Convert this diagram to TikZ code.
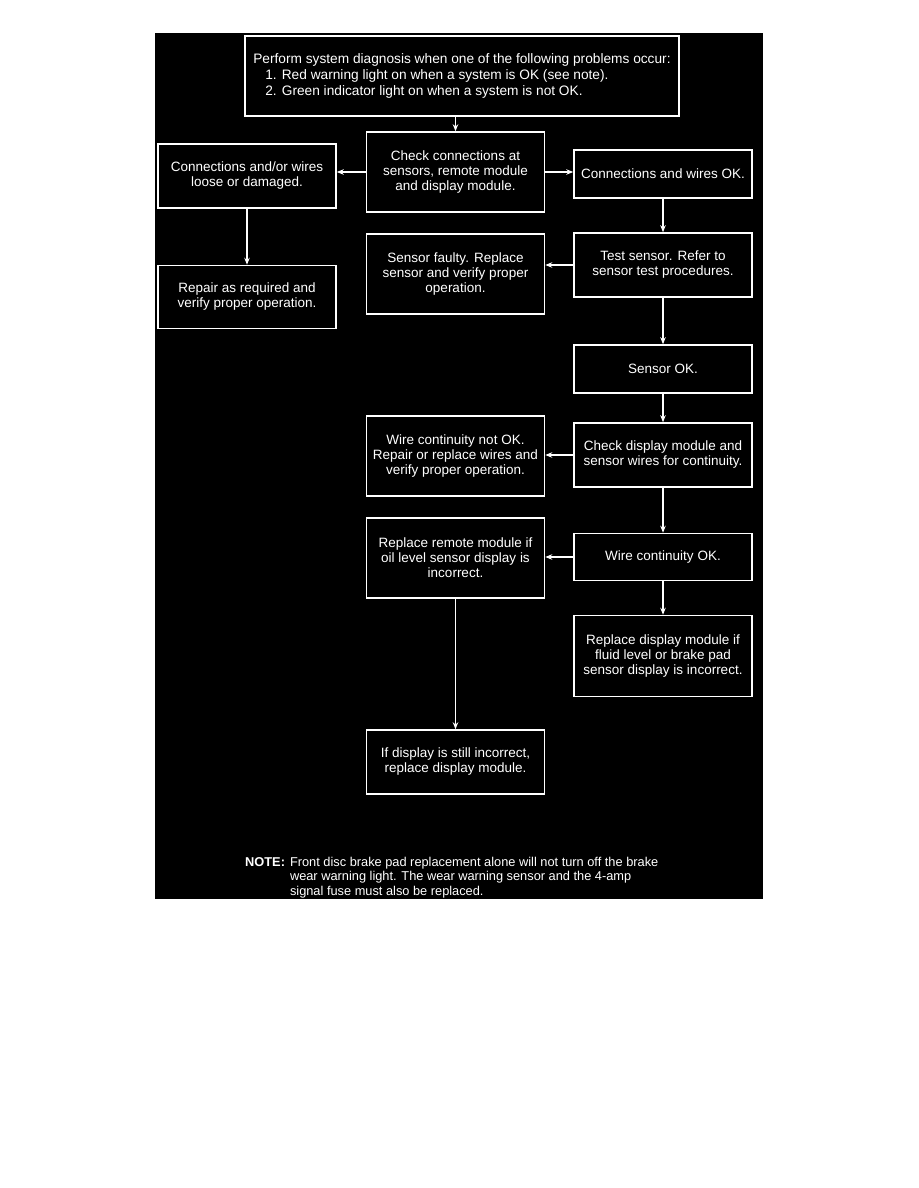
\documentclass[tikz,border=0pt]{standalone}
\usepackage{fontspec}
\setmainfont{Liberation Sans}
\usetikzlibrary{arrows.meta}
\tikzset{
  fbox/.style={draw=white, line width=1.5pt, fill=black, text=white, align=center,
    inner sep=0pt, minimum width=178pt, font=\fontsize{13.5}{15}\selectfont},
  flow/.style={draw=white, line width=1.5pt, -{Stealth[length=7pt,width=5.5pt]}},
}
\begin{document}
\begin{tikzpicture}[x=1pt,y=-1pt]
\useasboundingbox (0,0) rectangle (918,1188);
\fill[white] (0,0) rectangle (918,1188);
\fill[black] (155,33) rectangle (763,899);

\node[fbox, minimum width=434pt, minimum height=80pt, align=left,
  font=\fontsize{13.7}{16}\selectfont] (top) at (462,76)
  {Perform system diagnosis when one of the following problems occur:\\
   \hspace*{12pt}1. Red warning light on when a system is OK (see note).\\
   \hspace*{12pt}2. Green indicator light on when a system is not OK.};

\node[fbox, minimum height=80pt] (check) at (455.5,172)
  {Check connections at\\sensors, remote module\\and display module.};
\node[fbox, minimum height=64pt] (loose) at (247,176)
  {Connections and/or wires\\loose or damaged.};
\node[fbox, minimum height=48pt] (ok) at (663,174)
  {Connections and wires OK.};
\node[fbox, minimum height=64pt] (test) at (663,265)
  {Test sensor. Refer to\\sensor test procedures.};
\node[fbox, minimum height=80pt] (faulty) at (455.5,274)
  {Sensor faulty. Replace\\sensor and verify proper\\operation.};
\node[fbox, minimum height=63pt] (repair) at (247,297)
  {Repair as required and\\verify proper operation.};
\node[fbox, minimum height=48pt] (sensorok) at (663,369)
  {Sensor OK.};
\node[fbox, minimum height=64pt] (checkdisp) at (663,455)
  {Check display module and\\sensor wires for continuity.};
\node[fbox, minimum height=80pt] (notok) at (455.5,456)
  {Wire continuity not OK.\\Repair or replace wires and\\verify proper operation.};
\node[fbox, minimum height=80pt] (remote) at (455.5,558)
  {Replace remote module if\\oil level sensor display is\\incorrect.};
\node[fbox, minimum height=47pt] (wireok) at (663,557)
  {Wire continuity OK.};
\node[fbox, minimum height=81pt] (repdisp) at (663,656)
  {Replace display module if\\fluid level or brake pad\\sensor display is incorrect.};
\node[fbox, minimum height=64pt] (ifdisp) at (455.5,762)
  {If display is still incorrect,\\replace display module.};

\node[anchor=north west, text=white, inner sep=0pt, font=\fontsize{12.8}{14.5}\selectfont] (note) at (245,856)
  {\begin{tabular}{@{}l@{\hspace{5pt}}l@{}}
   \textbf{NOTE:} & Front disc brake pad replacement alone will not turn off the brake\\
   & wear warning light. The wear warning sensor and the 4-amp\\
   & signal fuse must also be replaced.
   \end{tabular}};

\draw[flow] (top.south -| check.north) -- (check.north);
\draw[flow] (check.west) -- (check.west -| loose.east);
\draw[flow] (check.east) -- (check.east -| ok.west);
\draw[flow] (loose.south) -- (repair.north);
\draw[flow] (ok.south) -- (test.north);
\draw[flow] (test.west) -- (test.west -| faulty.east);
\draw[flow] (test.south) -- (sensorok.north);
\draw[flow] (sensorok.south) -- (checkdisp.north);
\draw[flow] (checkdisp.west) -- (checkdisp.west -| notok.east);
\draw[flow] (checkdisp.south) -- (wireok.north);
\draw[flow] (wireok.west) -- (wireok.west -| remote.east);
\draw[flow] (wireok.south) -- (repdisp.north);
\draw[flow] (remote.south) -- (ifdisp.north);
\end{tikzpicture}
\end{document}
